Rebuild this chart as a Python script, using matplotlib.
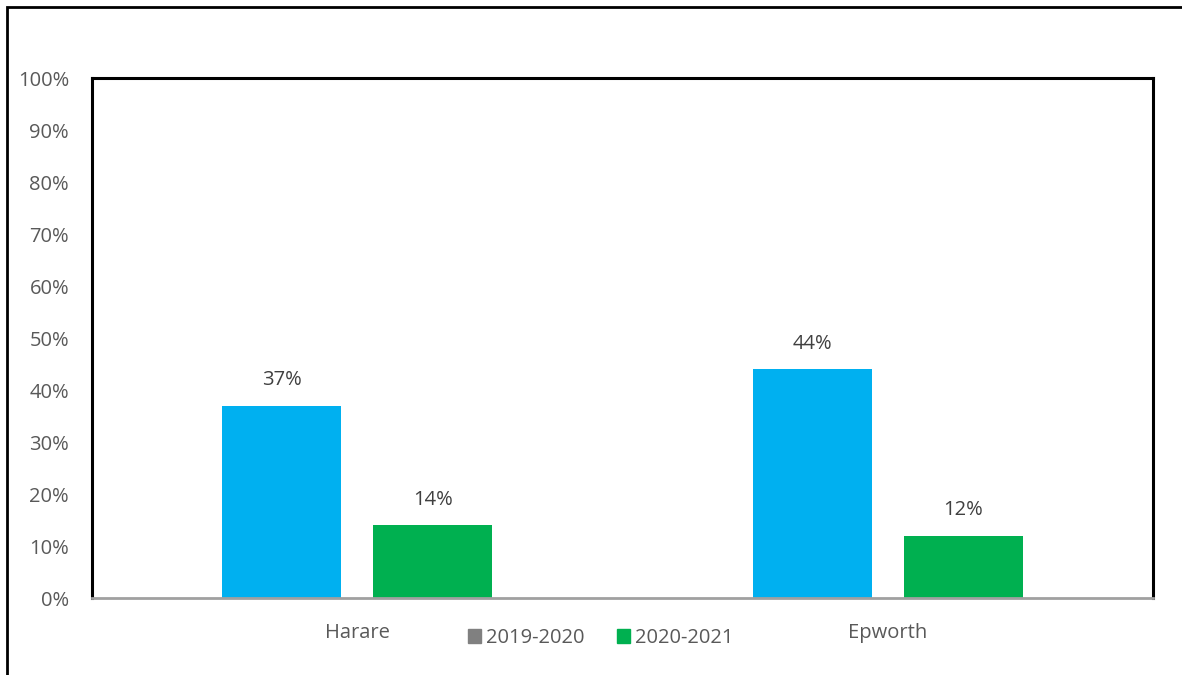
import numpy as np
import matplotlib.pyplot as plt
from matplotlib.patches import Patch, Rectangle

# =========================
# DATA
# =========================
CATEGORIES = ["Harare", "Epworth"]
SERIES     = ["2019-2020", "2020-2021"]
VALS_2019  = [37, 44]
VALS_2020  = [14, 12]
Y_TICKS    = list(range(0, 101, 10))

BLUE   = "#00B0F0"
GREEN  = "#00B050"
GREY   = "#808080"
TXT    = "#595959"
LABEL  = "#404040"

plt.rcParams["font.family"] = ["Open Sans", "DejaVu Sans"]

fig = plt.figure(figsize=(11.82, 6.75), dpi=100)
W, H = 1182, 675

# outer frame (clipped on the right/bottom like the reference)
fig.patches.append(Rectangle((7 / W, -0.05), 1.2, (675 - 7) / H + 0.05,
                             transform=fig.transFigure, fill=False,
                             edgecolor="black", linewidth=2))

ax = fig.add_axes([92 / W, 1 - 598 / H, (1153 - 92) / W, (598 - 78) / H])

x = np.arange(len(CATEGORIES))
bw = 0.224
off = 0.1425
b1 = ax.bar(x - off, VALS_2019, width=bw, color=BLUE)
b2 = ax.bar(x + off, VALS_2020, width=bw, color=GREEN)

for bars in (b1, b2):
    for bar in bars:
        ax.text(bar.get_x() + bar.get_width() / 2, bar.get_height() + 3.0,
                f"{bar.get_height():.0f}%", ha="center", va="bottom",
                fontsize=14.5, color=LABEL)

ax.set_xlim(-0.5, 1.5)
ax.set_ylim(0, 100)
ax.set_yticks(Y_TICKS)
ax.set_yticklabels([f"{t}%" for t in Y_TICKS])
ax.set_xticks(x)
ax.set_xticklabels(CATEGORIES)
ax.tick_params(axis="both", length=0, labelsize=14.5, colors=TXT)
ax.tick_params(axis="y", pad=16.5)
ax.tick_params(axis="x", pad=18)

for s in ["top", "left", "right"]:
    ax.spines[s].set_linewidth(2.2)
    ax.spines[s].set_color("black")
ax.spines["bottom"].set_color("#A0A0A0")
ax.spines["bottom"].set_linewidth(2)

handles = [Patch(color=GREY, label=SERIES[0]), Patch(color=GREEN, label=SERIES[1])]
leg = fig.legend(handles=handles, loc="center", bbox_to_anchor=(601 / W, 1 - 638 / H),
                 ncol=2, frameon=False, fontsize=14.5, handlelength=0.65,
                 handleheight=0.65, handletextpad=0.25, columnspacing=1.6)
for t in leg.get_texts():
    t.set_color(TXT)

fig.savefig("out.png", dpi=100)
